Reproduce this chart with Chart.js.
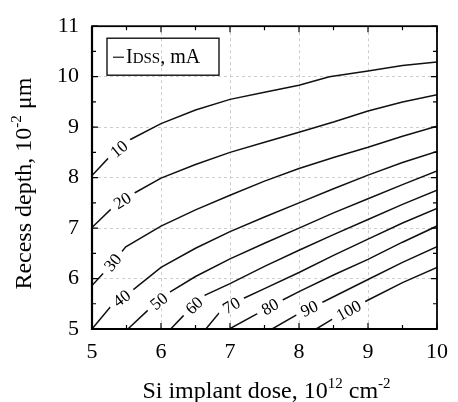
<!DOCTYPE html>
<html>
<head>
<meta charset="utf-8">
<title>IDSS contours</title>
<script src="https://cdn.jsdelivr.net/npm/chart.js@4/dist/chart.umd.min.js"></script>
<style>
  body { margin: 0; background: #fff; }
  canvas { display: block; }
</style>
</head>
<body>
<canvas id="idssChart" width="458" height="402"></canvas>
<script>
// I_DSS contour levels, mA
const levels = [10, 20, 30, 40, 50, 60, 70, 80, 90, 100];

// each contour: Si implant dose (10^12 cm^-2) -> recess depth (10^-2 um)
const dose10 = [5, 5.26, 5.55, 6, 6.5, 7, 7.5, 8, 8.44, 9, 9.5, 10];
const depth10 = [8.04, 8.42, 8.75, 9.07, 9.34, 9.55, 9.69, 9.83, 10.0, 10.11, 10.22, 10.29];
const dose20 = [5, 5.33, 5.61, 6, 6.5, 7, 7.5, 8, 8.5, 9, 9.5, 10];
const depth20 = [7.01, 7.45, 7.69, 7.99, 8.26, 8.5, 8.7, 8.9, 9.1, 9.32, 9.5, 9.64];
const dose30 = [5, 5.26, 5.49, 6, 6.5, 7, 7.5, 8, 8.5, 9, 9.5, 10];
const depth30 = [5.86, 6.25, 6.63, 7.04, 7.36, 7.65, 7.93, 8.18, 8.4, 8.6, 8.82, 9.02];
const dose40 = [5, 5.28, 5.59, 6, 6.5, 7, 7.5, 8, 8.5, 9, 9.5, 10];
const depth40 = [5.0, 5.46, 5.77, 6.22, 6.6, 6.93, 7.22, 7.5, 7.78, 8.05, 8.3, 8.52];
const dose50 = [5.52, 5.8, 6.14, 6.5, 7, 7.5, 8, 8.5, 9, 9.5, 10];
const depth50 = [5.0, 5.36, 5.74, 6.04, 6.39, 6.7, 7.0, 7.3, 7.58, 7.86, 8.13];
const dose60 = [6.14, 6.35, 6.64, 7, 7.5, 8, 8.5, 9, 9.5, 10];
const depth60 = [5.0, 5.3, 5.67, 5.9, 6.24, 6.56, 6.87, 7.17, 7.47, 7.75];
const dose70 = [6.65, 6.85, 7.2, 7.5, 8, 8.5, 9, 9.5, 10];
const depth70 = [5.0, 5.33, 5.61, 5.8, 6.12, 6.46, 6.78, 7.1, 7.39];
const dose80 = [6.99, 7.39, 7.77, 8, 8.5, 9, 9.5, 10];
const depth80 = [5.0, 5.3, 5.58, 5.74, 6.07, 6.38, 6.72, 7.04];
const dose90 = [7.61, 7.99, 8.37, 9, 9.5, 10];
const depth90 = [5.0, 5.3, 5.55, 5.98, 6.32, 6.63];
const dose100 = [8.25, 8.49, 9.01, 9.5, 10];
const depth100 = [5.0, 5.2, 5.58, 5.92, 6.22];

// dose where the level number is written on each contour
const labelDose = [5.39, 5.44, 5.30, 5.43, 5.97, 6.48, 7.02, 7.58, 8.15, 8.72];

// axis ranges / tick values
const xTicks = [5, 6, 7, 8, 9, 10];
const yTicks = [5, 6, 7, 8, 9, 10, 11];

const doses = [dose10, dose20, dose30, dose40, dose50, dose60, dose70, dose80, dose90, dose100];
const depths = [depth10, depth20, depth30, depth40, depth50, depth60, depth70, depth80, depth90, depth100];

const serif = '"Liberation Serif", "Times New Roman", serif';

var datasets = levels.map(function(lvl, i) {
    return {
        label: String(lvl),
        data: doses[i].map((x, j) => ({ x: x, y: depths[i][j] })),
        showLine: true,
        borderColor: '#111',
        borderWidth: 1.5,
        pointRadius: 0,
        fill: false
    };
});

// draws a run of text pieces, some of them raised and smaller
function drawRich(ctx, parts, x, y) {
    var total = 0;
    parts.forEach(p => { ctx.font = p[1] + 'px ' + serif; total += ctx.measureText(p[0]).width; });
    var cx = x - total / 2;
    parts.forEach(p => {
        ctx.font = p[1] + 'px ' + serif;
        ctx.fillText(p[0], cx, y + p[2]);
        cx += ctx.measureText(p[0]).width;
    });
}

// level numbers written along each contour, line broken under them
const contourLabels = {
    id: 'contourLabels',
    afterDatasetsDraw(chart) {
        const ctx = chart.ctx;
        const xs = chart.scales.x, ys = chart.scales.y;
        ctx.save();
        ctx.font = '17px ' + serif;
        chart.data.datasets.forEach((ds, i) => {
            const pts = ds.data;
            const lx = labelDose[i];
            let k = 0;
            while (k < pts.length - 2 && pts[k + 1].x < lx) k++;
            const a = pts[k], b = pts[k + 1];
            const ly = a.y + (lx - a.x) / (b.x - a.x) * (b.y - a.y);
            const px = xs.getPixelForValue(lx), py = ys.getPixelForValue(ly);
            const ang = Math.atan2(ys.getPixelForValue(b.y) - ys.getPixelForValue(a.y),
                                   xs.getPixelForValue(b.x) - xs.getPixelForValue(a.x));
            const w = ctx.measureText(ds.label).width;
            ctx.save();
            ctx.translate(px, py);
            ctx.rotate(ang);
            ctx.fillStyle = '#fff';
            ctx.fillRect(-w / 2 - 6, -6, w + 12, 12);
            ctx.fillStyle = '#000';
            ctx.textAlign = 'center';
            ctx.textBaseline = 'middle';
            ctx.fillText(ds.label, 0, 1);
            ctx.restore();
        });
        ctx.restore();
    }
};

// frame, inward ticks, axis titles and the legend box
const frame = {
    id: 'frame',
    afterDraw(chart) {
        const ctx = chart.ctx, a = chart.chartArea;
        const xs = chart.scales.x, ys = chart.scales.y;
        ctx.save();
        ctx.strokeStyle = '#000';
        ctx.lineWidth = 1.2;
        ctx.beginPath();
        for (let v = xs.min; v <= xs.max; v += 0.5) {
            const p = xs.getPixelForValue(v);
            const len = v % 1 === 0 ? 6 : 4;
            ctx.moveTo(p, a.bottom); ctx.lineTo(p, a.bottom - len);
            ctx.moveTo(p, a.top); ctx.lineTo(p, a.top + len);
        }
        for (let v = ys.min; v <= ys.max; v += 0.5) {
            const p = ys.getPixelForValue(v);
            const len = v % 1 === 0 ? 6 : 4;
            ctx.moveTo(a.left, p); ctx.lineTo(a.left + len, p);
            ctx.moveTo(a.right, p); ctx.lineTo(a.right - len, p);
        }
        ctx.stroke();
        ctx.lineWidth = 1.8;
        ctx.strokeRect(a.left, a.top, a.right - a.left, a.bottom - a.top);
        ctx.lineWidth = 2.2;
        ctx.beginPath();
        ctx.moveTo(a.left, a.top); ctx.lineTo(a.left, a.bottom); ctx.lineTo(a.right, a.bottom);
        ctx.stroke();

        ctx.fillStyle = '#000';
        ctx.textBaseline = 'alphabetic';
        drawRich(ctx, [['Si implant dose, 10', 24, 0], ['12', 15, -10], [' cm', 24, 0], ['-2', 15, -10]],
                 (a.left + a.right) / 2 + 2, 398);

        ctx.save();
        ctx.translate(31, (a.top + a.bottom) / 2 + 6);
        ctx.rotate(-Math.PI / 2);
        drawRich(ctx, [['Recess depth, 10', 24, 0], ['-2', 15, -10], [' \u03bcm', 24, 0]], 0, 0);
        ctx.restore();

        // legend
        const bx = a.left + 15, by = a.top + 12;
        ctx.lineWidth = 1.3;
        ctx.strokeRect(bx, by, 112, 37);
        ctx.lineWidth = 1.1;
        ctx.beginPath();
        ctx.moveTo(bx + 6, by + 19); ctx.lineTo(bx + 17, by + 19);
        ctx.stroke();
        let tx = bx + 19;
        ctx.font = '20px ' + serif;
        ctx.fillText('I', tx, by + 25);
        tx += ctx.measureText('I').width;
        ctx.font = '15px ' + serif;
        ctx.fillText('DSS', tx, by + 25);
        tx += ctx.measureText('DSS').width;
        ctx.font = '20px ' + serif;
        ctx.fillText(', mA', tx, by + 25);
        ctx.restore();
    }
};

var chart = new Chart(document.getElementById('idssChart').getContext('2d'), {
    type: 'scatter',
    data: { datasets: datasets },
    plugins: [contourLabels, frame],
    options: {
        responsive: false,
        animation: false,
        layout: { padding: { top: 13, right: 15, left: 0, bottom: 0 } },
        plugins: { legend: { display: false }, tooltip: { enabled: false } },
        elements: { line: { tension: 0 } },
        scales: {
            x: {
                type: 'linear',
                min: xTicks[0],
                max: xTicks[xTicks.length - 1],
                afterBuildTicks: s => { s.ticks = xTicks.map(v => ({ value: v })); },
                afterFit: s => { s.height = 73; },
                ticks: { color: '#000', padding: 10, font: { family: serif, size: 22 } },
                grid: {
                    drawTicks: false,
                    lineWidth: 1,
                    color: c => (c.tick.value === xTicks[0] || c.tick.value === xTicks[xTicks.length - 1]) ? 'rgba(0,0,0,0)' : '#cdcdcd'
                },
                border: { display: false, dash: [3, 3] }
            },
            y: {
                type: 'linear',
                min: yTicks[0],
                max: yTicks[yTicks.length - 1],
                afterBuildTicks: s => { s.ticks = yTicks.map(v => ({ value: v })); },
                afterFit: s => { s.width = 92; },
                ticks: { color: '#000', padding: 13, font: { family: serif, size: 22 } },
                grid: {
                    drawTicks: false,
                    lineWidth: 1,
                    color: c => (c.tick.value === yTicks[0] || c.tick.value === yTicks[yTicks.length - 1]) ? 'rgba(0,0,0,0)' : '#cdcdcd'
                },
                border: { display: false, dash: [3, 3] }
            }
        }
    }
});
</script>
</body>
</html>
